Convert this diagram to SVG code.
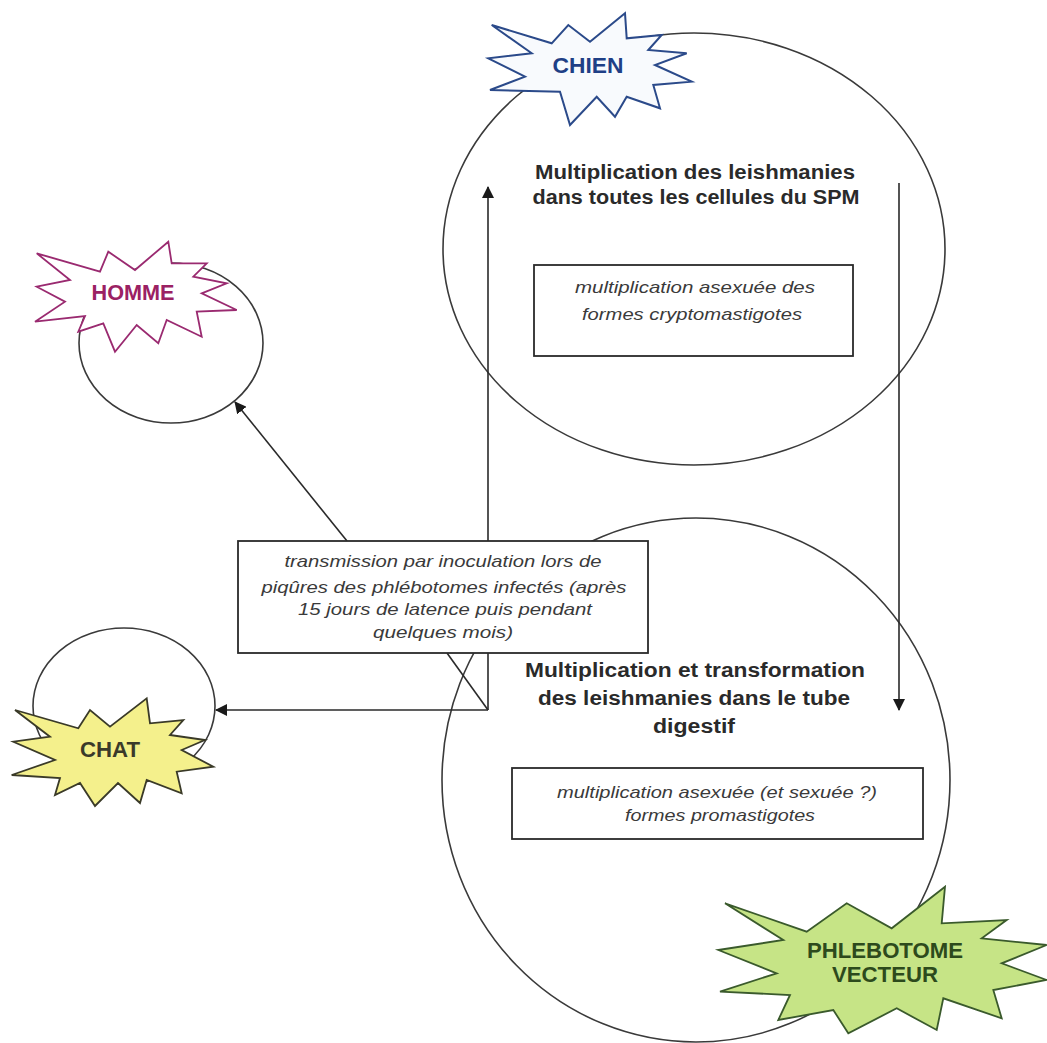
<svg xmlns="http://www.w3.org/2000/svg" width="1047" height="1043" viewBox="0 0 1047 1043">
<defs>
<marker id="arr" viewBox="0 0 12 12" refX="11" refY="6" markerWidth="12" markerHeight="12" markerUnits="userSpaceOnUse" orient="auto">
<path d="M0,0 L12,6 L0,12 Z" fill="#1a1a1a"/>
</marker>
<style>
.ring{fill:none;stroke:#3a3a3a;stroke-width:1.6}
.conn{fill:none;stroke:#2a2a2a;stroke-width:1.6}
.box{fill:#ffffff;stroke:#2a2a2a;stroke-width:1.8}
.title{font-family:"Liberation Sans",Arial,sans-serif;font-weight:bold;font-size:20px;fill:#2a2a2a;text-anchor:middle}
.note{font-family:"Liberation Sans",Arial,sans-serif;font-style:italic;font-size:17px;fill:#3a3a3a;text-anchor:middle}
.lbl{font-family:"Liberation Sans",Arial,sans-serif;font-weight:bold;font-size:22px;text-anchor:middle}
</style>
</defs>
<rect width="1047" height="1043" fill="#ffffff"/>

<g id="circles">
<ellipse id="ring-chien" class="ring" cx="694" cy="249" rx="251" ry="216"/>
<ellipse id="ring-phlebotome" class="ring" cx="696" cy="780" rx="254" ry="262"/>
<ellipse id="ring-homme" class="ring" cx="171" cy="343" rx="92" ry="80"/>
<ellipse id="ring-chat" class="ring" cx="124" cy="706" rx="91" ry="78"/>
</g>

<g id="connectors">
<line class="conn" x1="488" y1="710" x2="488" y2="187" marker-end="url(#arr)"/>
<line class="conn" x1="488" y1="710" x2="216" y2="710" marker-end="url(#arr)"/>
<line class="conn" x1="447" y1="653" x2="488" y2="710"/>
<line class="conn" x1="347" y1="541" x2="235" y2="402" marker-end="url(#arr)"/>
<line class="conn" x1="899" y1="183" x2="899" y2="710" marker-end="url(#arr)"/>
</g>

<g id="chien-text">
<text class="title" x="695" y="179" textLength="320" lengthAdjust="spacingAndGlyphs">Multiplication des leishmanies</text>
<text class="title" x="696" y="204" textLength="327" lengthAdjust="spacingAndGlyphs">dans toutes les cellules du SPM</text>
</g>
<g id="box-crypto">
<rect class="box" x="534" y="265" width="319" height="91"/>
<text class="note" x="695" y="293" textLength="240" lengthAdjust="spacingAndGlyphs">multiplication asexuée des</text>
<text class="note" x="692" y="320" textLength="220" lengthAdjust="spacingAndGlyphs">formes cryptomastigotes</text>
</g>

<g id="phlebotome-text">
<text class="title" x="695" y="677" textLength="340" lengthAdjust="spacingAndGlyphs">Multiplication et transformation</text>
<text class="title" x="694" y="705" textLength="312" lengthAdjust="spacingAndGlyphs">des leishmanies dans le tube</text>
<text class="title" x="694" y="733" textLength="82" lengthAdjust="spacingAndGlyphs">digestif</text>
</g>
<g id="box-promasti">
<rect class="box" x="512" y="768" width="411" height="71"/>
<text class="note" x="717" y="798" textLength="320" lengthAdjust="spacingAndGlyphs">multiplication asexuée (et sexuée ?)</text>
<text class="note" x="720" y="821" textLength="190" lengthAdjust="spacingAndGlyphs">formes promastigotes</text>
</g>

<g id="box-transmission">
<rect class="box" x="238" y="541" width="410" height="112"/>
<text class="note" x="443" y="567" textLength="317" lengthAdjust="spacingAndGlyphs">transmission par inoculation lors de</text>
<text class="note" x="444" y="593" textLength="365" lengthAdjust="spacingAndGlyphs">piqûres des phlébotomes infectés (après</text>
<text class="note" x="445" y="615" textLength="294" lengthAdjust="spacingAndGlyphs">15 jours de latence puis pendant</text>
<text class="note" x="443" y="638" textLength="140" lengthAdjust="spacingAndGlyphs">quelques mois)</text>
</g>

<g id="node-chien">
<polygon points="491.7,25 551.7,43.3 568.3,25 590,41.7 625,13.3 626.7,38.3 661.7,35 648.3,50 686.7,53.3 655,65 691.7,81.7 653.3,85 660,108.3 626.7,96.7 615,116.7 596.7,96.7 570,125 560,91.7 490,90 525,76.7 488.3,58.3 531.7,53.3" fill="#f8fafd" stroke="#2b4a8a" stroke-width="2" stroke-linejoin="miter"/>
<text class="lbl" x="588" y="73" fill="#1f3f86" textLength="71" lengthAdjust="spacingAndGlyphs">CHIEN</text>
</g>

<g id="node-homme">
<polygon points="36.7,253.3 100,271.7 108.3,251.7 135,270 168.3,241.7 171.7,263.3 206.7,263.3 193.3,276.7 226.7,283.3 201.7,293.3 236.7,310 196.7,311.7 201.7,336.7 166.7,320 158.3,343.3 136.7,325 115,351.7 103.3,323.3 78.3,331.7 85,316 35,321.7 65,301.7 36.7,286.7 70,280" fill="#ffffff" stroke="#9a2a70" stroke-width="1.8"/>
<text class="lbl" x="133" y="300" fill="#9b2163" font-size="21" textLength="83" lengthAdjust="spacingAndGlyphs">HOMME</text>
</g>

<g id="node-chat">
<polygon points="15,710 78.3,728.3 90,710 110,726.7 146.7,698.3 150,723.3 183.3,720 170,735 205,740 181.7,750 213.3,766.7 176.7,771.7 181.7,793.3 146.7,780 140,803 118,783 95,806 80,783 55,795 60,778 11.7,775 55,760 13.3,741.7 50,736.7" fill="#f4f08c" stroke="#3a3a28" stroke-width="1.8"/>
<text class="lbl" x="110" y="757" fill="#3a3a2a" font-size="21" textLength="60" lengthAdjust="spacingAndGlyphs">CHAT</text>
</g>

<g id="node-phlebotome">
<polygon points="725,903.3 806.7,931.7 846.7,903.3 891.7,928.3 945,886.7 941.7,923.3 1006.7,920 981.7,938.3 1046.7,945 1001.7,963.3 1046.7,980 993.3,990 1001.7,1018.3 943.3,998.3 936.7,1030 896.7,1008.3 848.3,1033.3 833.3,1010 778.3,1020 790,995 720,991.7 776.7,973.3 718.3,950 783.3,940" fill="#c6e486" stroke="#3a5a2c" stroke-width="1.8"/>
<text class="lbl" x="885" y="958" fill="#2d4a1c" font-size="22" textLength="156" lengthAdjust="spacingAndGlyphs">PHLEBOTOME</text>
<text class="lbl" x="885" y="982" fill="#2d4a1c" font-size="22" textLength="106" lengthAdjust="spacingAndGlyphs">VECTEUR</text>
</g>
</svg>
